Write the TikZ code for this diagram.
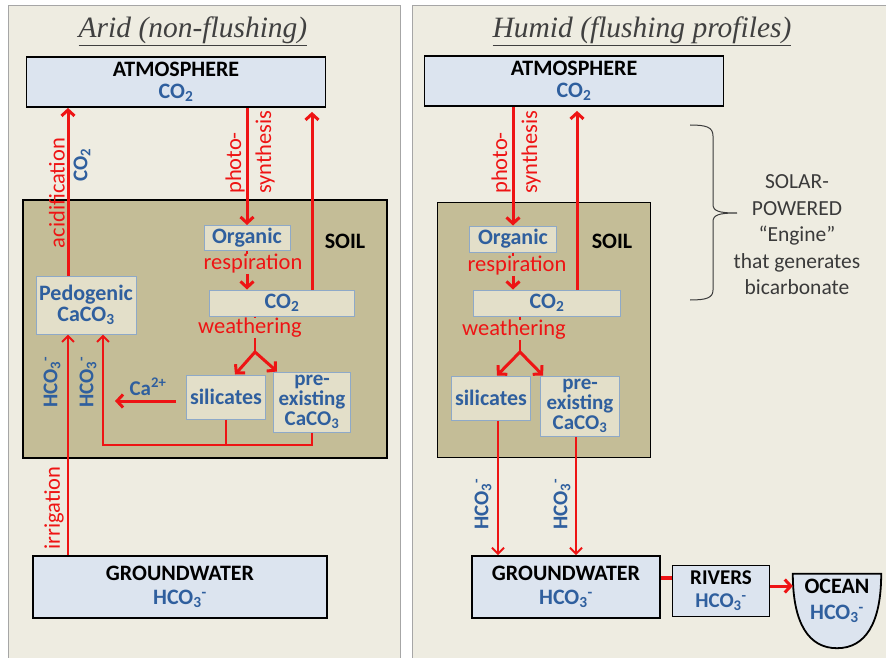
\documentclass[tikz,border=0pt]{standalone}
\usepackage{fontspec}
\setmainfont{Carlito}
\newfontfamily\titlefont{Liberation Serif}
\usetikzlibrary{arrows.meta,calc}

\definecolor{panelbg}{HTML}{EEECE1}
\definecolor{panelline}{HTML}{A6A6A6}
\definecolor{soilfill}{HTML}{C4BD97}
\definecolor{poolfill}{HTML}{E3DFC9}
\definecolor{poolline}{HTML}{8EA9C8}
\definecolor{airfill}{HTML}{DCE4EF}
\definecolor{chemblue}{HTML}{2F5F9E}
\definecolor{fluxred}{HTML}{EE1414}
\definecolor{notegray}{HTML}{3A3A3A}
\definecolor{titlegray}{HTML}{404040}

\newcommand{\cotwo}{CO\textsubscript{2}}
\newcommand{\hcothree}{HCO\textsubscript{3}\textsuperscript{-}}
\newcommand{\cacothree}{CaCO\textsubscript{3}}

\begin{document}
\begin{tikzpicture}[x=1pt,y=-1pt,
  reservoir/.style={draw=black,line width=1.8pt,fill=airfill,align=center,inner sep=0pt,font=\bfseries\fontsize{22}{22}\selectfont},
  soil/.style={draw=black,line width=1.8pt,fill=soilfill,inner sep=0pt},
  pool/.style={draw=poolline,line width=1pt,fill=poolfill,align=center,inner sep=0pt,text=chemblue,font=\bfseries\fontsize{22}{19}\selectfont},
  flux/.style={draw=fluxred,line width=3pt,-{Straight Barb[length=6pt,width=13pt]}},
  seep/.style={draw=fluxred,line width=2pt},
  seepflux/.style={seep,-{Straight Barb[length=6pt,width=12pt]}},
  process/.style={text=fluxred,font=\fontsize{22.5}{27}\selectfont,inner sep=0pt},
  species/.style={text=chemblue,font=\bfseries\fontsize{21}{19}\selectfont,inner sep=0pt},
  heading/.style={text=titlegray,font=\titlefont\itshape\fontsize{29.5}{32}\selectfont},
  note/.style={text=notegray,align=center,font=\fontsize{21.5}{26.5}\selectfont}]

\useasboundingbox (0,0) rectangle (886,658);
\fill[white] (0,0) rectangle (886,658);
\draw[panelline,fill=panelbg,line width=1pt] (8,6) rectangle (400,664);
\draw[panelline,fill=panelbg,line width=1pt] (412,6) rectangle (892,664);

\node[heading] (titleA) at (193,31) {\underline{Arid (non-flushing)}};
\node[reservoir,minimum width=299,minimum height=50] (airA) at (176,82) {ATMOSPHERE\\\textcolor{chemblue}{\cotwo}};
\node[soil,minimum width=364,minimum height=258] (soilA) at (205,329) {};
\node[font=\bfseries\fontsize{22}{22}\selectfont] (soilnameA) at (345,241) {SOIL};
\node[pool,minimum width=86,minimum height=25] (orgA) at (247,238) {Organic};
\node[process] (respA) at (253,264) {respiration};
\node[pool,minimum width=145,minimum height=26] (soilcoA) at (282,303) {\cotwo};
\node[process] (weathA) at (250,328) {weathering};
\node[pool,minimum width=79,minimum height=44] (silA) at (226,397) {silicates};
\node[pool,minimum width=77,minimum height=60,font=\bfseries\fontsize{21}{20}\selectfont] (preA) at (312,402) {pre-\\existing\\\cacothree};
\node[pool,minimum width=100,minimum height=58,font=\bfseries\fontsize{22}{21}\selectfont] (pedoA) at (86,305) {Pedogenic\\\cacothree};
\node[reservoir,minimum width=294,minimum height=62,font=\bfseries\fontsize{22}{24}\selectfont] (gwA) at (180,587) {GROUNDWATER\\\textcolor{chemblue}{\hcothree}};

\node[process,rotate=90] (acidlabA) at (57,193) {acidification};
\node[species,rotate=90] (acidcoA) at (82,165) {\cotwo};
\node[process,rotate=90,align=left,font=\fontsize{22.5}{30}\selectfont] (photoA) at (250,152) {photo-\\synthesis};
\node[species] (caA) at (148,387) {Ca\textsuperscript{2+}};
\node[species,rotate=90] (hcoirrA) at (52,382) {\hcothree};
\node[species,rotate=90] (hcoloopA) at (88,382) {\hcothree};
\node[process,rotate=90] (irrlabA) at (54,508) {irrigation};

\draw[flux] (orgA.north |- airA.south) -- (orgA.north);
\coordinate (acidA) at ($(pedoA.north)+(-18,0)$);
\draw[flux] (acidA) -- (acidA |- airA.south);
\coordinate (ventA) at ($(soilcoA.north)+(30,0)$);
\draw[flux,shorten >=4pt] (ventA) -- (ventA |- airA.south);
\draw[seep] (orgA.south) -- (orgA.south |- respA.north);
\draw[flux] (orgA.south |- respA.south) -- (orgA.south |- soilcoA.north);
\coordinate (forkA) at (255,352);
\draw[seep] (forkA |- soilcoA.south) -- (forkA |- weathA.north);
\draw[seep] (forkA |- weathA.south) -- (forkA);
\draw[flux] (forkA) -- ($(silA.north)+(9,0)$);
\draw[flux] (forkA) -- ($(preA.north west)+(4,0)$);
\coordinate (caendA) at (115,401);
\draw[flux,shorten <=10pt] (caendA -| silA.west) -- (caendA);
\coordinate (loopA) at (103,445);
\draw[seep] (silA.south) -- (silA.south |- loopA);
\draw[seepflux] (preA.south) -- (preA.south |- loopA) -- (loopA) -- (loopA |- pedoA.south);
\draw[seepflux] (acidA |- gwA.north) -- (acidA |- pedoA.south);

\node[heading] (titleB) at (642,31) {\underline{Humid (flushing profiles)}};
\node[reservoir,minimum width=299,minimum height=50] (airB) at (574,81) {ATMOSPHERE\\\textcolor{chemblue}{\cotwo}};
\node[soil,minimum width=213,minimum height=255] (soilB) at (544,330) {};
\node[font=\bfseries\fontsize{22}{22}\selectfont] (soilnameB) at (612,241) {SOIL};
\node[pool,minimum width=87,minimum height=26] (orgB) at (513,239) {Organic};
\node[process] (respB) at (517,266) {respiration};
\node[pool,minimum width=147,minimum height=26] (soilcoB) at (547,303) {\cotwo};
\node[process] (weathB) at (514,330) {weathering};
\node[pool,minimum width=79,minimum height=44] (silB) at (491,398) {silicates};
\node[pool,minimum width=79,minimum height=60,font=\bfseries\fontsize{21}{20}\selectfont] (preB) at (580,406) {pre-\\existing\\\cacothree};
\node[reservoir,minimum width=188,minimum height=62,font=\bfseries\fontsize{22}{24}\selectfont] (gwB) at (566,587) {GROUNDWATER\\\textcolor{chemblue}{\hcothree}};
\node[reservoir,minimum width=97,minimum height=51,font=\bfseries\fontsize{21}{23}\selectfont] (riverB) at (721,591) {RIVERS\\\textcolor{chemblue}{\hcothree}};
\node[minimum width=88,minimum height=54,inner sep=0pt] (oceanB) at (837,601) {};
\draw[line width=1.8pt,fill=airfill] (oceanB.north west) .. controls ($(oceanB.north west)+(0,50)$) and ($(oceanB.south)+(-28,20)$) .. ($(oceanB.south)+(0,20)$) .. controls ($(oceanB.south)+(28,20)$) and ($(oceanB.north east)+(0,50)$) .. (oceanB.north east) -- cycle;
\node[align=center,font=\bfseries\fontsize{22}{26}\selectfont] (oceannameB) at (oceanB) {OCEAN\\\textcolor{chemblue}{\hcothree}};

\node[process,rotate=90,align=left,font=\fontsize{22.5}{30}\selectfont] (photoB) at (516,152) {photo-\\synthesis};
\node[species,rotate=90] (hcosilB) at (483,504) {\hcothree};
\node[species,rotate=90] (hcopreB) at (562,504) {\hcothree};

\draw[flux] (orgB.north |- airB.south) -- (orgB.north);
\coordinate (ventB) at ($(soilcoB.north)+(30,0)$);
\draw[flux,shorten >=4pt] (ventB) -- (ventB |- airB.south);
\draw[seep] (orgB.south) -- (orgB.south |- respB.north);
\draw[flux] (orgB.south |- respB.south) -- (orgB.south |- soilcoB.north);
\coordinate (forkB) at (520,352);
\draw[seep] (forkB |- soilcoB.south) -- (forkB |- weathB.north);
\draw[seep] (forkB |- weathB.south) -- (forkB);
\draw[flux] (forkB) -- ($(silB.north)+(6,0)$);
\draw[flux] (forkB) -- ($(preB.north west)+(3,0)$);
\coordinate (drainsilB) at ($(silB.south)+(7,0)$);
\draw[seepflux] (drainsilB) -- (drainsilB |- gwB.north);
\coordinate (drainpreB) at ($(preB.south)+(-4,0)$);
\draw[seepflux] (drainpreB) -- (drainpreB |- gwB.north);
\coordinate (outletB) at ($(gwB.east)+(0,-9)$);
\draw[fluxred,line width=4pt] (outletB) -- (outletB -| riverB.west);
\coordinate (mouthB) at ($(riverB.east)+(0,-5)$);
\draw[flux] (mouthB) -- (mouthB -| oceanB.west);

\draw[notegray,line width=1pt] (690,125) .. controls (706,125) and (713,127) .. (713,136) -- (713,204) .. controls (713,211) and (718,213) .. (737,213) .. controls (718,213) and (713,215) .. (713,222) -- (713,290) .. controls (713,298) and (706,300) .. (690,300);
\node[note] (engineB) at (797,235) {SOLAR-\\POWERED\\“Engine”\\that generates\\bicarbonate};
\end{tikzpicture}
\end{document}
